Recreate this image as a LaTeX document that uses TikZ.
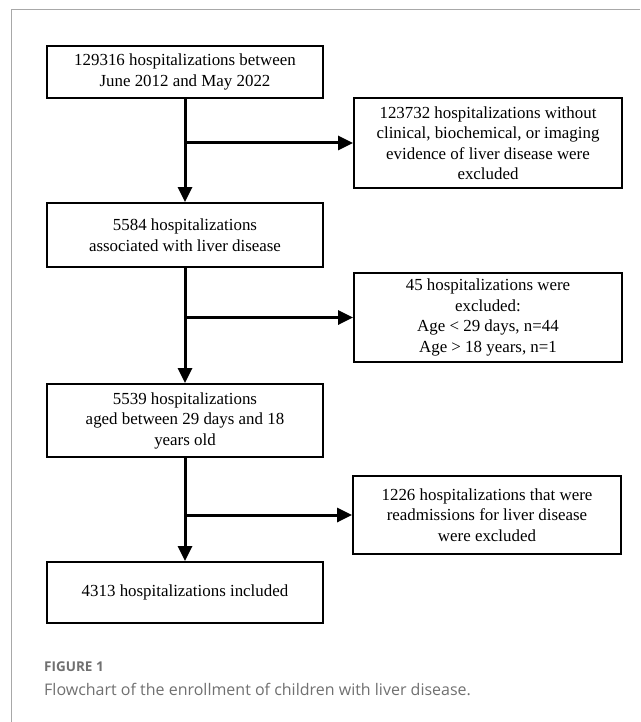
\documentclass[tikz,border=0pt]{standalone}
\usepackage{fontspec}
\setmainfont{Liberation Serif}
\newfontfamily\capfont{Open Sans}
\usetikzlibrary{arrows.meta,positioning}
\definecolor{framegray}{HTML}{A8A8A8}
\definecolor{capgray}{HTML}{707070}

\begin{document}
\begin{tikzpicture}[x=1pt,y=-1pt,>={Triangle[length=15pt,width=14pt]},on grid,
  mainbox/.style={draw,line width=1.8pt,align=center,minimum width=276pt,inner sep=0pt,font=\fontsize{16.9}{20.5}\selectfont},
  sidebox/.style={mainbox,minimum width=268pt},
  flow/.style={->,line width=3pt}]
  \useasboundingbox (0,0) rectangle (640,722);
  \draw[framegray,line width=1pt] (640,10) -- (11,10) -- (11,722);

  \node[mainbox,minimum height=52pt] (n1) at (185,72) {129316 hospitalizations between\\June 2012 and May 2022};
  \node[mainbox,minimum height=64pt] (n2) [below=163pt of n1] {5584 hospitalizations\\associated with liver disease};
  \node[mainbox,minimum height=73pt] (n3) [below=185.5pt of n2] {5539 hospitalizations\\aged between 29 days and 18\\years old};
  \node[mainbox,minimum height=61pt] (n4) [below=172pt of n3] {4313 hospitalizations included};

  \node[sidebox,minimum height=90pt] (x1) [below right=71pt and 303pt of n1] {123732 hospitalizations without\\clinical, biochemical, or imaging\\evidence of liver disease were\\excluded};
  \node[sidebox,minimum height=89pt] (x2) [below right=82.5pt and 303pt of n2] {45 hospitalizations were\\excluded:\\Age < 29 days, n=44\\Age > 18 years, n=1};
  \node[sidebox,minimum height=78pt] (x3) [below right=94.5pt and 302pt of n3] {1226 hospitalizations that were\\readmissions for liver disease\\were excluded};

  % main flow
  \draw[flow] (n1.south) -- (n2.north);
  \draw[flow] (n2.south) -- (n3.north);
  \draw[flow] (n3.south) -- (n4.north);
  % exclusions
  \draw[flow] (n1.south |- x1.west) -- (x1.west);
  \draw[flow] (n2.south |- x2.west) -- (x2.west);
  \draw[flow] (n3.south |- x3.west) -- (x3.west);

  \node[anchor=west,inner sep=0pt,text=capgray,font=\capfont\bfseries\fontsize{13.5}{16}\selectfont] (fig) at (44,667) {FIGURE 1};
  \node[anchor=west,inner sep=0pt,text=capgray,font=\capfont\fontsize{16}{20}\selectfont] (cap) at (44,689) {Flowchart of the enrollment of children with liver disease.};
\end{tikzpicture}
\end{document}
